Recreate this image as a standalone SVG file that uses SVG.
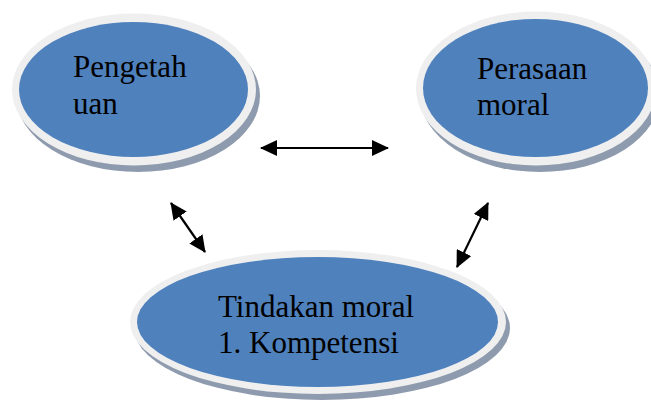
<svg xmlns="http://www.w3.org/2000/svg" width="651" height="403" viewBox="0 0 651 403">
  <defs>
    <style>
      .shadow { fill: #8e9bae; }
      .ring { fill: #efefef; }
      .blue { fill: #4f81bd; }
      .label { font-family: "Liberation Serif", "Times New Roman", serif; font-size: 31px; fill: #000000; }
      .conn { stroke: #000000; stroke-width: 2.2; fill: none; }
    </style>
    <marker id="ah" viewBox="0 0 17 16" refX="16" refY="8" markerWidth="17" markerHeight="16" markerUnits="userSpaceOnUse" orient="auto-start-reverse">
      <path d="M0,0 L17,8 L0,16 Z" fill="#000000"/>
    </marker>
  </defs>
  <rect width="651" height="403" fill="#ffffff"/>

  <g id="node-pengetahuan">
    <ellipse class="shadow" cx="138" cy="96" rx="122" ry="76"/>
    <ellipse class="ring" cx="134" cy="89.5" rx="122" ry="76"/>
    <ellipse class="blue" cx="133.5" cy="89.5" rx="114.5" ry="67.5"/>
    <text class="label" x="73" y="77">Pengetah</text>
    <text class="label" x="73" y="114">uan</text>
  </g>

  <g id="node-perasaan">
    <ellipse class="shadow" cx="540" cy="95" rx="120" ry="77"/>
    <ellipse class="ring" cx="536" cy="88.5" rx="120" ry="77"/>
    <ellipse class="blue" cx="535.5" cy="88" rx="112.5" ry="69"/>
    <text class="label" x="477" y="79">Perasaan</text>
    <text class="label" x="477" y="115">moral</text>
  </g>

  <g id="node-tindakan">
    <ellipse class="shadow" cx="322" cy="328" rx="188" ry="72"/>
    <ellipse class="ring" cx="318" cy="322" rx="188" ry="72"/>
    <ellipse class="blue" cx="317.5" cy="322" rx="180.5" ry="65"/>
    <text class="label" x="218" y="317">Tindakan moral</text>
    <text class="label" x="218" y="353">1. Kompetensi</text>
  </g>

  <g id="connectors">
    <line class="conn" x1="261" y1="148" x2="388" y2="148" marker-start="url(#ah)" marker-end="url(#ah)"/>
    <line class="conn" x1="171" y1="203" x2="205" y2="252" marker-start="url(#ah)" marker-end="url(#ah)"/>
    <line class="conn" x1="488" y1="203" x2="457" y2="267" marker-start="url(#ah)" marker-end="url(#ah)"/>
  </g>
</svg>
